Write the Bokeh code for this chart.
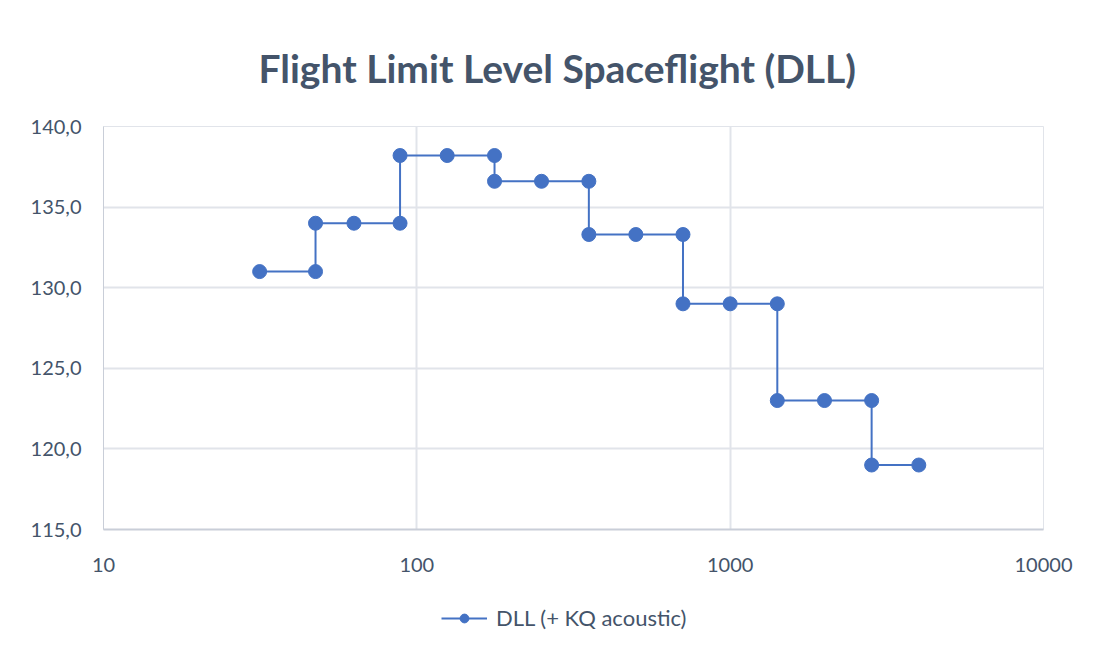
from bokeh.plotting import figure
from bokeh.layouts import column
from bokeh.models import Range1d, FixedTicker, Legend, LegendItem
from bokeh.embed import file_html
from bokeh.resources import INLINE

# ---- data ----
freq = [31.5, 47.5, 47.5, 63, 88.4, 88.4, 125, 177, 177, 250, 354, 354, 500, 707,
        707, 1000, 1414, 1414, 2000, 2828, 2828, 4000]
dll = [131.0, 131.0, 134.0, 134.0, 134.0, 138.2, 138.2, 138.2, 136.6, 136.6, 136.6,
       133.3, 133.3, 133.3, 129.0, 129.0, 129.0, 123.0, 123.0, 123.0, 119.0, 119.0]
x_ticks = [10, 100, 1000, 10000]
x_tick_labels = ["10", "100", "1000", "10000"]
y_ticks = [115, 120, 125, 130, 135, 140]
y_tick_labels = ["115,0", "120,0", "125,0", "130,0", "135,0", "140,0"]
title_text = "Flight Limit Level Spaceflight (DLL)"
series_name = "DLL (+ KQ acoustic)"

BLUE = "#4472C4"
TEXT = "#44546A"
GRID = "#E1E4EA"
FONT = "Lato"

p = figure(width=1100, height=580, x_axis_type="log",
           x_range=Range1d(10, 10000), y_range=Range1d(115, 140),
           output_backend="svg", toolbar_location=None,
           min_border_left=103, min_border_right=57,
           min_border_top=126, min_border_bottom=51)

p.background_fill_color = "white"
p.border_fill_color = "white"
p.outline_line_color = GRID

p.line(freq, dll, line_color=BLUE, line_width=2)
p.scatter(freq, dll, size=14, fill_color=BLUE, line_color=BLUE, line_width=1)

# axes
p.xaxis.ticker = FixedTicker(ticks=x_ticks)
p.xaxis.major_label_overrides = {t: l for t, l in zip(x_ticks, x_tick_labels)}
p.yaxis.ticker = FixedTicker(ticks=y_ticks)
p.yaxis.major_label_overrides = {t: l for t, l in zip(y_ticks, y_tick_labels)}
for ax in (p.xaxis, p.yaxis):
    ax.major_tick_line_color = None
    ax.minor_tick_line_color = None
    ax.major_label_text_font = FONT
    ax.major_label_text_font_size = "20px"
    ax.major_label_text_color = TEXT
    ax.axis_line_color = "#C9CED8"
    ax.axis_line_width = 1
p.xaxis.major_label_standoff = 22
p.yaxis.major_label_standoff = 16
p.xaxis.axis_line_width = 2

p.xgrid.grid_line_color = GRID
p.ygrid.grid_line_color = GRID
p.xgrid.grid_line_width = 2
p.ygrid.grid_line_width = 2

# title
p.title.text = title_text
p.title.align = "left"
p.title.offset = 155
p.title.standoff = 72
p.title.text_font = FONT
p.title.text_font_style = "bold"
p.title.text_font_size = "39px"
p.title.text_color = TEXT

# legend strip below the chart (series drawn outside its range, only the legend shows)
lg = figure(width=1100, height=70, x_range=Range1d(0, 1), y_range=Range1d(0, 1),
            output_backend="svg", toolbar_location=None,
            min_border_left=0, min_border_right=0, min_border_top=0, min_border_bottom=0)
lg.axis.visible = False
lg.grid.visible = False
lg.outline_line_color = None
lg.background_fill_color = "white"
lg.border_fill_color = "white"
lln = lg.line(freq, dll, line_color=BLUE, line_width=2)
lsc = lg.scatter(freq, dll, size=14, fill_color=BLUE, line_color=BLUE, line_width=1)
legend = Legend(items=[LegendItem(label=series_name, renderers=[lln, lsc])],
                location=(338, 19), orientation="horizontal",
                glyph_width=46, glyph_height=22, label_standoff=9,
                label_text_font=FONT, label_text_font_size="22px",
                label_text_color=TEXT, padding=0, margin=0,
                border_line_color=None, background_fill_alpha=0)
lg.add_layout(legend)

layout = column(p, lg)
open("out.html", "w").write(file_html(layout, INLINE))
